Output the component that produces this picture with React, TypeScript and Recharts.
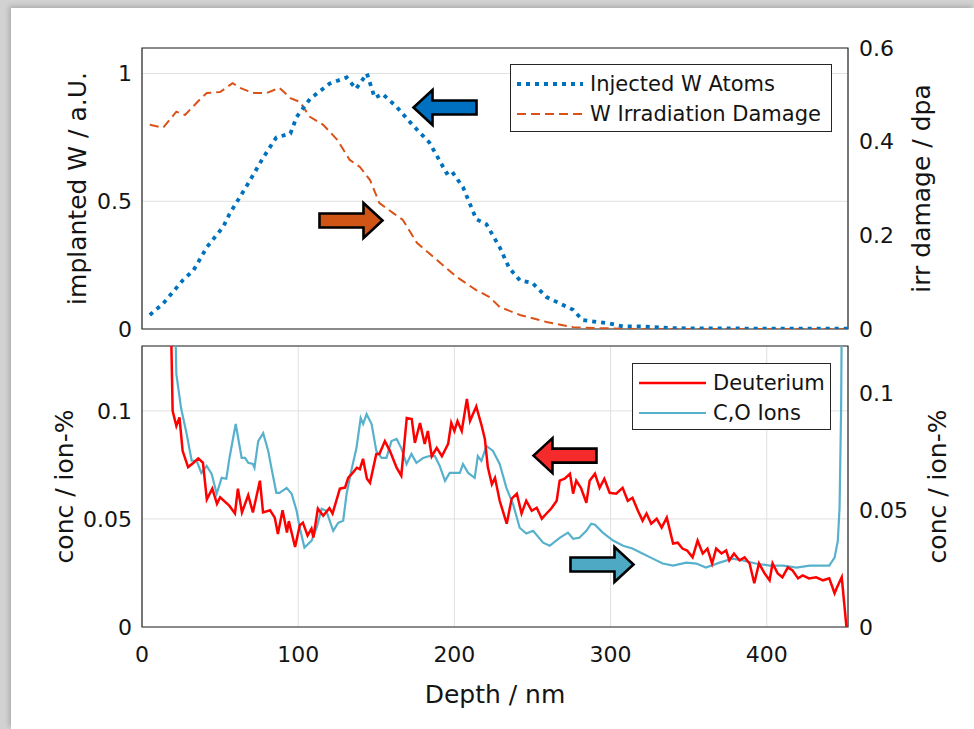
import React from "react";
import {
  LineChart,
  Line,
  XAxis,
  YAxis,
  CartesianGrid,
  ReferenceArea,
  ReferenceDot,
  Label,
} from "recharts";

// MATLAB-ish figure look: DejaVu is the closest installed match in width.
const FONT = "'DejaVu Sans', Verdana, sans-serif";
const INK = "#141414";
const GRID = "#e0e0e0";
const BOX = "#262626";

// shared depth axis (nm)
const depthTicks = [0, 100, 200, 300, 400];
const depthMax = 452;

// --- top panel -------------------------------------------------------------
// injected W atoms, normalised (left axis)
const injectedDepth = [
  5, 13.6, 26, 33, 41.5, 52, 56, 61, 69, 77.5, 86, 95, 99, 107.5, 120, 131, 137,
  144, 149, 154, 163, 173, 184, 195, 198, 205.5, 214, 220.5, 229, 235, 242, 250,
  259, 267.5, 276, 282, 291, 299, 308, 321, 340, 380, 420, 452,
];
const injectedW = [
  0.055, 0.1, 0.19, 0.23, 0.32, 0.4, 0.45, 0.5, 0.58, 0.67, 0.75, 0.765, 0.83,
  0.9, 0.96, 0.985, 0.94, 1.0, 0.905, 0.92, 0.87, 0.8, 0.73, 0.61, 0.62, 0.555,
  0.43, 0.41, 0.32, 0.24, 0.19, 0.18, 0.125, 0.1, 0.075, 0.035, 0.028, 0.022,
  0.01, 0.01, 0.003, 0.002, 0.001, 0.001,
];

// W irradiation damage in dpa (right axis)
const damageDepth = [
  5, 13.6, 22, 27.5, 37, 41.5, 50, 58, 62.7, 71, 80, 88, 95, 101, 107.5, 116,
  125, 133, 139.5, 146, 152, 160.6, 167, 176, 189, 201.5, 214, 222.6, 229, 242,
  259, 276, 289, 320, 400, 452,
];
const damageDpa = [
  0.436, 0.43, 0.464, 0.457, 0.49, 0.504, 0.506, 0.525, 0.515, 0.504, 0.504,
  0.515, 0.493, 0.485, 0.453, 0.436, 0.404, 0.361, 0.346, 0.318, 0.269, 0.248,
  0.233, 0.184, 0.147, 0.111, 0.083, 0.068, 0.047, 0.03, 0.015, 0.004, 0.002, 0,
  0, 0,
];

const wTicks = [0, 0.5, 1];
const dpaTicks = [0, 0.2, 0.4, 0.6];

// --- bottom panel ----------------------------------------------------------
// deuterium concentration (left axis)
const deutDepth = [
  17, 19.6, 22, 24, 26, 29.5, 33, 36, 39, 41.5, 45, 48, 50, 56, 59.5, 61.4, 64,
  68, 71, 75.5, 77.5, 82, 85, 87, 90, 92.8, 94, 98, 101, 103, 106, 108.5, 109.7,
  112.6, 116, 120, 122, 126.7, 130, 132, 135, 137.5, 139.5, 141.5, 144, 146, 150,
  152, 155.5, 158.7, 163, 166, 169.5, 172.7, 174.7, 178, 181, 183, 185.5, 188.7,
  192, 196, 198, 200, 202, 204.7, 208, 210, 214, 217.5, 219.5, 221.4, 224, 226,
  229, 233.5, 236.7, 240, 243, 246, 249.5, 252.7, 256, 259, 262, 265.5, 267.4,
  270.6, 274, 276, 278, 281, 284.5, 286.6, 290, 293, 296, 299.4, 303.6, 307.7,
  311, 314, 317.5, 320.5, 323, 326, 329.5, 332.7, 336, 338, 340, 343, 346, 349,
  352.5, 355.7, 359, 362, 365, 367.6, 371, 374, 376, 379, 382.6, 385.8, 389, 392,
  395, 398.6, 401.8, 403.7, 407, 410, 413.5, 416.5, 420, 423, 427, 431.6, 436,
  440, 443.4, 445, 448, 451,
];
const deutConc = [
  0.2, 0.1, 0.093, 0.097, 0.0815, 0.074, 0.076, 0.078, 0.076, 0.059, 0.064,
  0.057, 0.06, 0.056, 0.0525, 0.064, 0.053, 0.061, 0.053, 0.0677, 0.053, 0.054,
  0.0506, 0.043, 0.054, 0.0437, 0.049, 0.037, 0.047, 0.0483, 0.0423, 0.0455,
  0.0414, 0.0548, 0.0515, 0.055, 0.0525, 0.064, 0.0645, 0.069, 0.0714, 0.0737,
  0.073, 0.0778, 0.0686, 0.0667, 0.08, 0.08, 0.086, 0.0815, 0.0737, 0.07, 0.0967,
  0.0962, 0.0852, 0.0944, 0.0847, 0.0907, 0.079, 0.0829, 0.079, 0.0847, 0.0944,
  0.0907, 0.0953, 0.0907, 0.1055, 0.0953, 0.102, 0.093, 0.087, 0.074, 0.066,
  0.069, 0.0584, 0.0478, 0.0594, 0.0617, 0.0525, 0.0584, 0.0538, 0.0552, 0.0501,
  0.0525, 0.0548, 0.0584, 0.0677, 0.0686, 0.0709, 0.0617, 0.0677, 0.0644,
  0.0575, 0.0677, 0.0709, 0.0644, 0.0686, 0.0621, 0.0617, 0.0644, 0.0584,
  0.0598, 0.0538, 0.0492, 0.0525, 0.0478, 0.0501, 0.046, 0.0506, 0.0446, 0.0386,
  0.039, 0.0363, 0.0354, 0.0322, 0.04, 0.034, 0.0363, 0.0294, 0.0363, 0.034,
  0.0354, 0.0308, 0.034, 0.0308, 0.0322, 0.0294, 0.0202, 0.0294, 0.0248, 0.0216,
  0.0294, 0.0248, 0.023, 0.0276, 0.0262, 0.0225, 0.0239, 0.0225, 0.023, 0.0216,
  0.0225, 0.0156, 0.0184, 0.023, 0,
];

// C,O ion concentration (right axis)
const ionDepth = [
  19, 22, 25, 28.6, 31.8, 35, 38, 41.4, 44.6, 47.8, 51, 54, 56, 60, 63.8, 66, 68,
  71, 72, 74.4, 77.6, 80.8, 83, 86, 88, 92.6, 95.8, 99, 101, 104, 108.6, 111.8,
  115, 118, 122.4, 125.6, 128.8, 131, 134, 137.3, 140, 141.6, 143.8, 147, 150,
  153.4, 156.5, 159.7, 163, 166, 169.4, 172.5, 175.7, 180, 184, 187.5, 190.6,
  194, 197, 203.5, 205.5, 208.8, 213, 215, 217.3, 220.5, 224.7, 229, 233.3,
  237.5, 241.8, 246, 250.4, 256.8, 261, 267.4, 272.7, 276, 280, 284.5, 287.6,
  290, 295, 301.6, 308, 314, 320.7, 327, 333.4, 340, 348.5, 355, 361, 369.8, 378,
  384.6, 393, 402, 410.6, 419, 427.4, 436, 440, 443.4, 445.5, 446.6, 447.6, 448.7,
];
const ionConc = [
  0.2, 0.108, 0.0935, 0.0824, 0.071, 0.071, 0.0658, 0.0688, 0.0654, 0.0569,
  0.0637, 0.0633, 0.0722, 0.0867, 0.0722, 0.0722, 0.0701, 0.0696, 0.068, 0.0794,
  0.0828, 0.0752, 0.0675, 0.0573, 0.0573, 0.0594, 0.0569, 0.0496, 0.0424,
  0.0339, 0.0369, 0.0424, 0.0505, 0.0496, 0.0411, 0.0445, 0.0454, 0.0569,
  0.0667, 0.0764, 0.0892, 0.0867, 0.0909, 0.0867, 0.0752, 0.0722, 0.0722,
  0.0794, 0.0803, 0.0764, 0.0696, 0.0739, 0.0701, 0.0722, 0.073, 0.073, 0.0688,
  0.0624, 0.0658, 0.0658, 0.0696, 0.0658, 0.0637, 0.073, 0.0709, 0.0773, 0.0752,
  0.0696, 0.0594, 0.0526, 0.0424, 0.0399, 0.0411, 0.036, 0.0347, 0.0381, 0.0403,
  0.0377, 0.0381, 0.0411, 0.0441, 0.0437, 0.0403, 0.0369, 0.0347, 0.0335,
  0.0313, 0.0292, 0.0271, 0.0262, 0.0275, 0.0271, 0.0254, 0.0275, 0.0292,
  0.0284, 0.0271, 0.0262, 0.0262, 0.0254, 0.0262, 0.0262, 0.0262, 0.0296,
  0.0369, 0.051, 0.0935, 0.2,
];

const deutTicks = [0, 0.05, 0.1];
const ionTicks = [0, 0.05, 0.1];

// ---------------------------------------------------------------------------

const zip = (xs: number[], ys: number[]) => xs.map((x, i) => ({ x, y: ys[i] }));

const injected = zip(injectedDepth, injectedW);
const damage = zip(damageDepth, damageDpa);
const deuterium = zip(deutDepth, deutConc);
const ions = zip(ionDepth, ionConc);

const S = {
  injected: { color: "#0072BD", width: 3.8, dash: "4 5" },
  damage: { color: "#D95319", width: 2, dash: "9 5" },
  deut: { color: "#FF0000", width: 2.5, dash: undefined },
  ions: { color: "#57B1CC", width: 2.2, dash: undefined },
};

const TICK = { fontSize: 22, fill: INK, fontFamily: FONT };
const LABEL = { fontSize: 25, fill: INK, fontFamily: FONT };

// block arrow annotation drawn around a data point
function arrowShape(dir: "left" | "right", fill: string) {
  return (props: any) => {
    const { cx, cy } = props;
    const s = dir === "left" ? -1 : 1;
    const half = 31.5;
    const head = 19;
    const hh = 17.5;
    const bh = 7;
    const pts = [
      [s * half, 0],
      [s * (half - head), -hh],
      [s * (half - head), -bh],
      [-s * half, -bh],
      [-s * half, bh],
      [s * (half - head), bh],
      [s * (half - head), hh],
    ]
      .map(([dx, dy]) => `${cx + dx},${cy + dy}`)
      .join(" ");
    return (
      <polygon
        points={pts}
        fill={fill}
        stroke="#000"
        strokeWidth={2.6}
        strokeLinejoin="miter"
      />
    );
  };
}

type LegendItem = { name: string; color: string; width: number; dash?: string };

function LegendBox({
  items,
  style,
  sample,
}: {
  items: LegendItem[];
  style: React.CSSProperties;
  sample: number;
}) {
  return (
    <div
      style={{
        position: "absolute",
        background: "#fff",
        border: `1.2px solid ${BOX}`,
        boxSizing: "border-box",
        padding: "4px 0 4px 6px",
        fontFamily: FONT,
        fontSize: 21,
        color: INK,
        ...style,
      }}
    >
      {items.map((it) => (
        <div
          key={it.name}
          style={{ display: "flex", alignItems: "center", height: 30 }}
        >
          <svg width={sample} height={10} style={{ marginRight: 7 }}>
            <line
              x1={0}
              y1={5}
              x2={sample}
              y2={5}
              stroke={it.color}
              strokeWidth={it.width}
              strokeDasharray={it.dash}
            />
          </svg>
          <span style={{ whiteSpace: "nowrap" }}>{it.name}</span>
        </div>
      ))}
    </div>
  );
}

function TopPanel() {
  // extra bottom margin keeps the "0" tick labels inside the svg
  return (
    <LineChart
      width={974}
      height={362}
      margin={{ top: 48, right: 0, bottom: 32, left: 0 }}
      style={{ position: "absolute", left: 0, top: 0 }}
    >
      <CartesianGrid yAxisId="w" stroke={GRID} />
      <XAxis
        type="number"
        dataKey="x"
        domain={[0, depthMax]}
        ticks={depthTicks}
        interval={0}
        allowDataOverflow
        tick={false}
        tickLine={false}
        axisLine={false}
        height={1}
      />
      <YAxis
        yAxisId="w"
        domain={[0, 1.1]}
        ticks={wTicks}
        interval={0}
        allowDataOverflow
        width={142}
        tickLine={false}
        axisLine={false}
        tickSize={0}
        tickMargin={10}
        tick={TICK}
      >
        <Label value="implanted W / a.U." angle={-90} position="center" dx={6} style={LABEL} />
      </YAxis>
      <YAxis
        yAxisId="dpa"
        orientation="right"
        domain={[0, 0.6]}
        ticks={dpaTicks}
        interval={0}
        allowDataOverflow
        width={126}
        tickLine={false}
        axisLine={false}
        tickSize={0}
        tickMargin={11}
        tick={TICK}
      >
        <Label value="irr damage / dpa" angle={-90} position="center" dx={10} style={LABEL} />
      </YAxis>
      <ReferenceArea
        yAxisId="w"
        x1={0}
        x2={depthMax}
        y1={0}
        y2={1.1}
        fill="none"
        stroke={BOX}
        strokeWidth={1.2}
      />
      <Line
        data={damage}
        dataKey="y"
        yAxisId="dpa"
        type="linear"
        stroke={S.damage.color}
        strokeWidth={S.damage.width}
        strokeDasharray={S.damage.dash}
        dot={false}
        isAnimationActive={false}
      />
      <Line
        data={injected}
        dataKey="y"
        yAxisId="w"
        type="linear"
        stroke={S.injected.color}
        strokeWidth={S.injected.width}
        strokeDasharray={S.injected.dash}
        dot={false}
        isAnimationActive={false}
      />
      <ReferenceDot yAxisId="w" x={194} y={0.867} shape={arrowShape("left", "#0070C0")} />
      <ReferenceDot yAxisId="w" x={133.8} y={0.425} shape={arrowShape("right", "#CF5517")} />
    </LineChart>
  );
}

function BottomPanel() {
  return (
    <LineChart
      width={974}
      height={394}
      margin={{ top: 11, right: 0, bottom: 12, left: 0 }}
      style={{ position: "absolute", left: 0, top: 335 }}
    >
      <CartesianGrid yAxisId="d" stroke={GRID} />
      <XAxis
        type="number"
        dataKey="x"
        domain={[0, depthMax]}
        ticks={depthTicks}
        interval={0}
        allowDataOverflow
        tickLine={false}
        axisLine={false}
        tickSize={0}
        tickMargin={19}
        tick={TICK}
        height={90}
      >
        <Label value="Depth / nm" position="insideBottom" offset={14} style={LABEL} />
      </XAxis>
      <YAxis
        yAxisId="d"
        domain={[0, 0.13]}
        ticks={deutTicks}
        interval={0}
        allowDataOverflow
        width={142}
        tickLine={false}
        axisLine={false}
        tickSize={0}
        tickMargin={10}
        tick={TICK}
      >
        <Label value="conc / ion-%" angle={-90} position="center" dx={-7} style={LABEL} />
      </YAxis>
      <YAxis
        yAxisId="ion"
        orientation="right"
        domain={[0, 0.12]}
        ticks={ionTicks}
        interval={0}
        allowDataOverflow
        width={126}
        tickLine={false}
        axisLine={false}
        tickSize={0}
        tickMargin={11}
        tick={TICK}
      >
        <Label value="conc / ion-%" angle={-90} position="center" dx={26} style={LABEL} />
      </YAxis>
      <ReferenceArea
        yAxisId="d"
        x1={0}
        x2={depthMax}
        y1={0}
        y2={0.13}
        fill="none"
        stroke={BOX}
        strokeWidth={1.2}
      />
      <Line
        data={ions}
        dataKey="y"
        yAxisId="ion"
        type="linear"
        stroke={S.ions.color}
        strokeWidth={S.ions.width}
        dot={false}
        isAnimationActive={false}
      />
      <Line
        data={deuterium}
        dataKey="y"
        yAxisId="d"
        type="linear"
        stroke={S.deut.color}
        strokeWidth={S.deut.width}
        dot={false}
        isAnimationActive={false}
      />
      <ReferenceDot yAxisId="d" x={270.8} y={0.0793} shape={arrowShape("left", "#F52B2B")} />
      <ReferenceDot yAxisId="d" x={294.5} y={0.0289} shape={arrowShape("right", "#4DA9C4")} />
    </LineChart>
  );
}

export default function App() {
  return (
    <div
      style={{
        position: "absolute",
        left: 0,
        top: 0,
        width: 974,
        height: 729,
        background: "#d2d2d2",
        overflow: "hidden",
      }}
    >
      <div
        style={{
          position: "absolute",
          left: 11,
          top: 8,
          right: 0,
          bottom: 0,
          background: "#fff",
          boxShadow: "-2px -2px 5px rgba(0,0,0,0.18)",
        }}
      />
      <TopPanel />
      <BottomPanel />
      <LegendBox
        sample={66}
        style={{ left: 510, top: 64, width: 322, height: 68 }}
        items={[
          { name: "Injected W Atoms", ...S.injected },
          { name: "W Irradiation Damage", ...S.damage },
        ]}
      />
      <LegendBox
        sample={67}
        style={{ left: 632, top: 363, width: 199, height: 67 }}
        items={[
          { name: "Deuterium", ...S.deut },
          { name: "C,O Ions", ...S.ions },
        ]}
      />
    </div>
  );
}
